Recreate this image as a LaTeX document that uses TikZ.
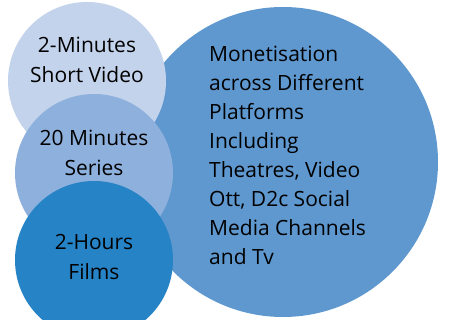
\documentclass[tikz,border=0pt]{standalone}
\usepackage{fontspec}
\setmainfont{Open Sans}
\definecolor{bigc}{HTML}{5E98CF}
\definecolor{cone}{HTML}{C4D3EC}
\definecolor{ctwo}{HTML}{8DB0DC}
\definecolor{cthree}{HTML}{2683C6}
\tikzset{
  disc/.style={circle, inner sep=0pt, minimum size=#1},
  lbl/.style={align=center, font=\fontsize{21}{30}\selectfont, text=black, inner sep=0pt},
}
\begin{document}
\begin{tikzpicture}[x=1pt,y=-1pt]
\useasboundingbox (0,0) rectangle (453,320);
\node[disc=310pt, fill=bigc] (big) at (283,162) {};
\node[disc=158pt, fill=cone] (one) at (87,81) {};
\node[disc=158pt, fill=ctwo] (two) at (94,173) {};
\node[disc=158pt, fill=cthree] (three) at (94,260) {};
\node[lbl, anchor=base] (t1) at (87,83) {2-Minutes\\Short Video};
\node[lbl, anchor=base] (t2) at (94,176) {20 Minutes\\Series};
\node[lbl, anchor=base] (t3) at (94,280) {2-Hours\\Films};
\node[font=\fontsize{21}{29.1}\selectfont, align=left, inner sep=0pt, anchor=base west] (tb) at (209,265) {Monetisation\\across Different\\Platforms\\Including\\Theatres, Video\\Ott, D2c Social\\Media Channels\\and Tv};
\end{tikzpicture}
\end{document}
